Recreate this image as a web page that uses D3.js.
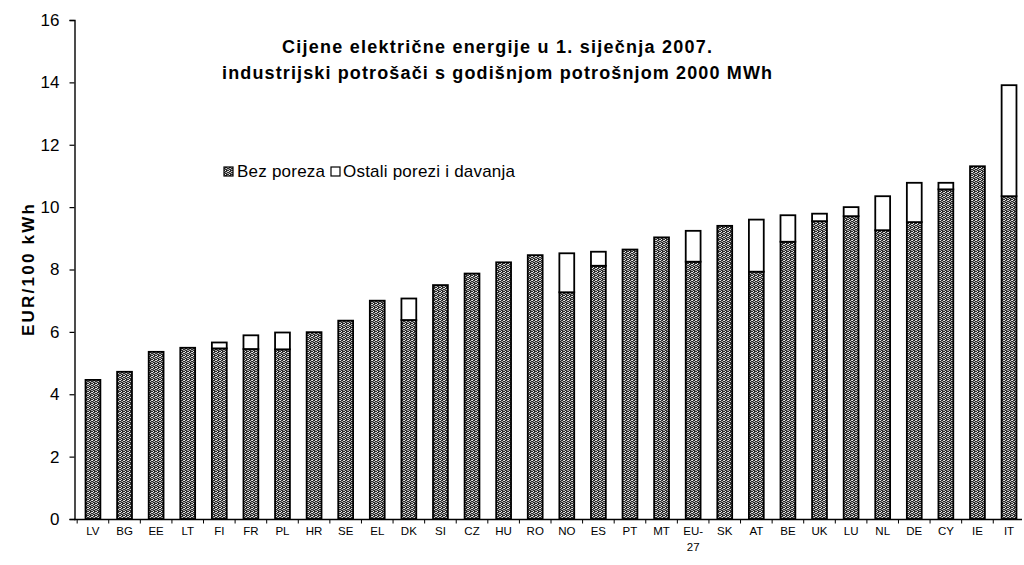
<!DOCTYPE html>
<html><head><meta charset="utf-8">
<script src="https://cdn.jsdelivr.net/npm/d3@7/dist/d3.min.js"></script>
<style>body{margin:0;background:#fff}svg{display:block}text{font-family:"Liberation Sans",Arial,sans-serif}</style>
</head><body><svg id="c" width="1024" height="565"></svg>
<script>
const categories = ["LV","BG","EE","LT","FI","FR","PL","HR","SE","EL","DK","SI","CZ","HU","RO","NO","ES","PT","MT","EU-27","SK","AT","BE","UK","LU","NL","DE","CY","IE","IT"];
const bezPoreza = [4.46,4.72,5.36,5.49,5.47,5.45,5.44,5.99,6.36,7.0,6.38,7.5,7.87,8.23,8.46,7.27,8.12,8.64,9.03,8.25,9.4,7.93,8.89,9.55,9.71,9.26,9.52,10.57,11.31,10.35];
const ostaliPorezi = [0,0,0,0,0.19,0.44,0.54,0,0,0,0.69,0,0,0,0,1.25,0.45,0,0,0.99,0,1.67,0.85,0.24,0.29,1.09,1.26,0.21,0,3.56];
const yTicks = [0,2,4,6,8,10,12,14,16];
const seriesNames = ["Bez poreza","Ostali porezi i davanja"];
const titleLines = ["Cijene električne energije u 1. siječnja 2007.","industrijski potrošači s godišnjom potrošnjom 2000 MWh"];
const yTitle = "EUR/100 kWh";

const svg = d3.select("#c");
const defs = svg.append("defs");
const pat = defs.append("pattern").attr("id","speck").attr("patternUnits","userSpaceOnUse").attr("width",4).attr("height",4);
pat.append("rect").attr("width",4).attr("height",4).attr("fill","#2c2c2c");
[[0,0,"#e8e8e8"],[2,1,"#c8c8c8"],[1,3,"#f2f2f2"],[3,2,"#a8a8a8"],[1,1,"#808080"],[3,0,"#d0d0d0"],[0,2,"#b0b0b0"]].forEach(([x,y,c])=>pat.append("rect").attr("x",x).attr("y",y).attr("width",1).attr("height",1).attr("fill",c));

const x = d3.scaleBand().domain(categories).range([77,1025]).paddingInner(0.53).paddingOuter(0.27);
const y = d3.scaleLinear().domain([0,16]).range([519,20]);

// bars
const data = categories.map((c,i)=>({c, a:bezPoreza[i], b:ostaliPorezi[i]}));
const g = svg.append("g");
g.selectAll("rect.bez").data(data).join("rect").attr("class","bez")
  .attr("x",d=>x(d.c)).attr("width",x.bandwidth())
  .attr("y",d=>y(d.a)).attr("height",d=>y(0)-y(d.a))
  .attr("fill","url(#speck)").attr("stroke","#000").attr("stroke-width",1.8);
g.selectAll("rect.ost").data(data.filter(d=>d.b>0)).join("rect").attr("class","ost")
  .attr("x",d=>x(d.c)).attr("width",x.bandwidth())
  .attr("y",d=>y(d.a+d.b)).attr("height",d=>y(d.a)-y(d.a+d.b))
  .attr("fill","#fff").attr("stroke","#000").attr("stroke-width",1.8);

// y axis
const ya = svg.append("g").attr("transform","translate(74.5,0)")
  .call(d3.axisLeft(y).tickValues(yTicks).tickSize(5).tickPadding(10).tickFormat(d3.format("d")));
ya.select(".domain").attr("stroke","#000").attr("stroke-width",1.4);
ya.selectAll(".tick line").attr("stroke","#000").attr("stroke-width",1.2);
ya.selectAll(".tick text").attr("font-size",17).attr("fill","#000");

// x axis
const step = x.step();
const xa = svg.append("g").attr("transform","translate(0,519.5)");
xa.append("line").attr("x1",74).attr("x2",1022).attr("stroke","#000").attr("stroke-width",1.4);
xa.selectAll("line.t").data(categories).join("line").attr("class","t")
  .attr("x1",d=>x(d)+x.bandwidth()/2-step/2).attr("x2",d=>x(d)+x.bandwidth()/2-step/2)
  .attr("y1",0).attr("y2",4).attr("stroke","#000").attr("stroke-width",1);
xa.selectAll("text").data(categories).join("text")
  .attr("x",d=>x(d)+x.bandwidth()/2).attr("y",15).attr("text-anchor","middle")
  .attr("font-size",11.5).attr("fill","#000")
  .each(function(d){
    const parts = d==="EU-27" ? ["EU-","27"] : [d];
    d3.select(this).selectAll("tspan").data(parts).join("tspan")
      .attr("x",x(d)+x.bandwidth()/2).attr("dy",(p,i)=>i?16:0).text(p=>p);
  });

// y title
svg.append("text").attr("transform","translate(34,270) rotate(-90)").attr("text-anchor","middle")
  .attr("font-size",17).attr("font-weight","bold").attr("textLength",132).attr("lengthAdjust","spacing").text(yTitle);

// title
const tW = [430, 550];
svg.selectAll("text.title").data(titleLines).join("text").attr("class","title")
  .attr("x",(d,i)=>497-tW[i]/2).attr("y",(d,i)=>53+i*26)
  .attr("font-size",18).attr("font-weight","bold")
  .attr("textLength",(d,i)=>tW[i]).attr("lengthAdjust","spacing").text(d=>d);

// legend
const lg = svg.append("g").attr("transform","translate(224,171)");
lg.append("rect").attr("x",0).attr("y",-4).attr("width",9).attr("height",9).attr("fill","url(#speck)").attr("stroke","#000").attr("stroke-width",1.2);
lg.append("text").attr("x",13).attr("y",6).attr("font-size",17).attr("textLength",88).attr("lengthAdjust","spacing").text(seriesNames[0]);
lg.append("rect").attr("x",107).attr("y",-4).attr("width",9).attr("height",9).attr("fill","#fff").attr("stroke","#000").attr("stroke-width",1.2);
lg.append("text").attr("x",119).attr("y",6).attr("font-size",17).attr("textLength",172).attr("lengthAdjust","spacing").text(seriesNames[1]);
</script></body></html>
